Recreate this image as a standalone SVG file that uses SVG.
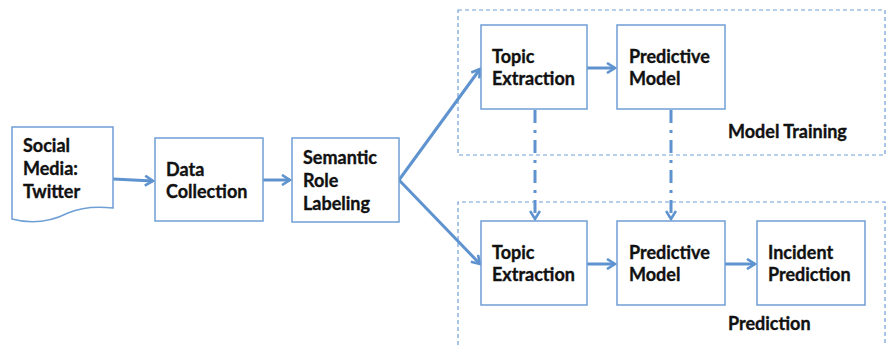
<svg xmlns="http://www.w3.org/2000/svg" width="891" height="345" viewBox="0 0 891 345">
<defs>
<style>
.box{fill:#fff;stroke:#6f9fd5;stroke-width:1.5}
.grp{fill:none;stroke:#6f9fd5;stroke-width:1.2;stroke-dasharray:4 3}
.t{font-family:Lato,"Open Sans","Liberation Sans",sans-serif;font-weight:bold;font-size:18px;fill:#111;stroke:#111;stroke-width:0.35}
.c{fill:none;stroke:#5f93cf;stroke-width:3}
.dd{fill:none;stroke:#5f93cf;stroke-width:3;stroke-dasharray:13 7 3 7}
</style>
<marker id="ah" viewBox="0 0 12 12" refX="10" refY="6" markerWidth="12" markerHeight="12" markerUnits="userSpaceOnUse" orient="auto">
<path d="M2,1 L10,6 L2,11" fill="none" stroke="#5f93cf" stroke-width="2.6"/>
</marker>
</defs>
<rect width="891" height="345" fill="#fff"/>
<g id="group-training"><rect class="grp" x="458" y="10" width="427" height="145"/><text class="t" x="728" y="138">Model Training</text></g>
<g id="group-prediction"><path class="grp" d="M458,345 V202 H885 V345"/><text class="t" x="728" y="330">Prediction</text></g>
<g id="connectors">
<line class="c" x1="113" y1="179" x2="153" y2="181" marker-end="url(#ah)"/>
<line class="c" x1="263" y1="180" x2="290" y2="180" marker-end="url(#ah)"/>
<line class="c" x1="399" y1="180" x2="480" y2="69" marker-end="url(#ah)"/>
<line class="c" x1="399" y1="180" x2="480" y2="264" marker-end="url(#ah)"/>
<line class="c" x1="587" y1="68" x2="615" y2="68" marker-end="url(#ah)"/>
<line class="c" x1="587" y1="264" x2="615" y2="264" marker-end="url(#ah)"/>
<line class="c" x1="725" y1="264" x2="755" y2="264" marker-end="url(#ah)"/>
<line class="dd" x1="535" y1="110" x2="535" y2="219" marker-end="url(#ah)"/>
<line class="dd" x1="671" y1="110" x2="671" y2="219" marker-end="url(#ah)"/>
</g>
<g id="social-media"><path class="box" d="M12,127 H113 V208 C96,206 82,207 68,213 C50,222 30,224 12,219 Z"/><text class="t" x="23" y="152">Social</text><text class="t" x="23" y="175">Media:</text><text class="t" x="23" y="198">Twitter</text></g>
<g id="data-collection"><rect class="box" x="155" y="138" width="108" height="83"/><text class="t" x="166" y="176">Data</text><text class="t" x="166" y="198">Collection</text></g>
<g id="semantic-role"><rect class="box" x="292" y="138" width="107" height="84"/><text class="t" x="303" y="164">Semantic</text><text class="t" x="303" y="187">Role</text><text class="t" x="303" y="210">Labeling</text></g>
<g id="topic-train"><rect class="box" x="481" y="25" width="106" height="84"/><text class="t" x="492" y="63">Topic</text><text class="t" x="492" y="85">Extraction</text></g>
<g id="predictive-train"><rect class="box" x="617" y="25" width="108" height="84"/><text class="t" x="629" y="63">Predictive</text><text class="t" x="629" y="85">Model</text></g>
<g id="topic-pred"><rect class="box" x="481" y="221" width="106" height="84"/><text class="t" x="492" y="259">Topic</text><text class="t" x="492" y="281">Extraction</text></g>
<g id="predictive-pred"><rect class="box" x="617" y="221" width="108" height="84"/><text class="t" x="629" y="259">Predictive</text><text class="t" x="629" y="281">Model</text></g>
<g id="incident"><rect class="box" x="757" y="221" width="108" height="84"/><text class="t" x="768" y="259">Incident</text><text class="t" x="768" y="281">Prediction</text></g>
</svg>
